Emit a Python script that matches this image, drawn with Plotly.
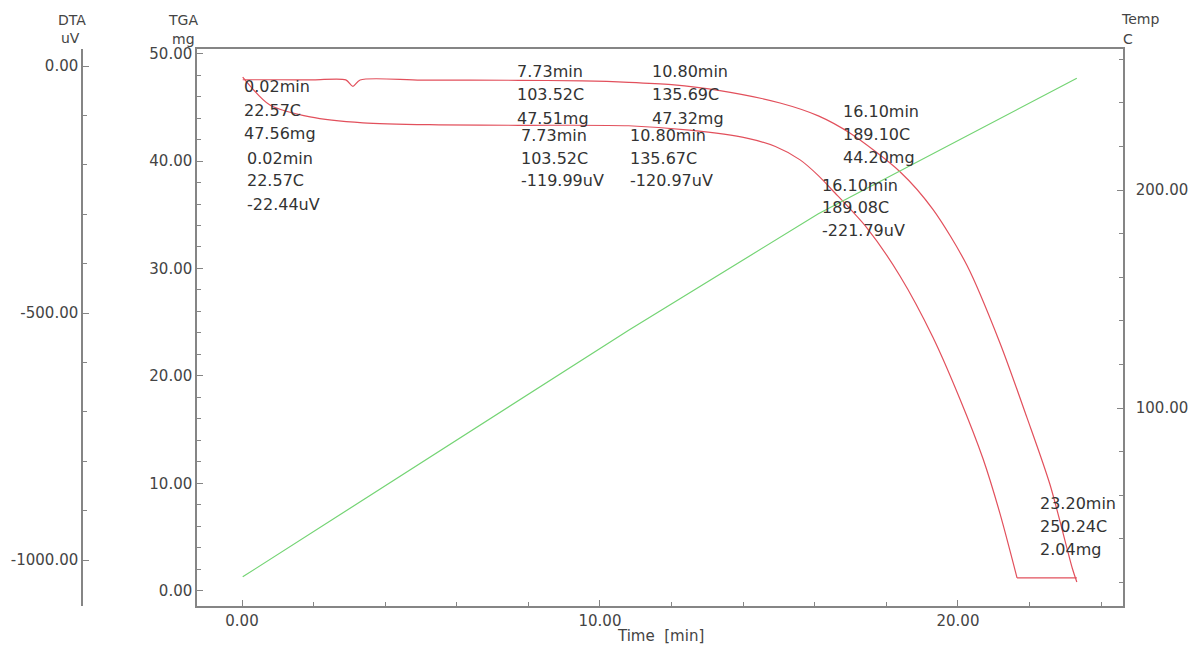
import plotly.graph_objects as go

# ---- TGA (mass) trace, mg vs time ----
tga_time = [0.02, 1.0, 2.0, 2.90, 3.10, 3.30, 5.0, 7.73, 9.5, 10.80, 12.0, 13.35,
            15.03, 16.10, 16.98, 18.38, 19.30, 20.25, 21.17, 21.93, 22.57, 23.20, 23.32]
tga_mass = [47.56, 47.56, 47.55, 47.55, 46.95, 47.54, 47.53, 47.51, 47.45, 47.32, 47.10, 46.55,
            45.40, 44.20, 42.60, 39.00, 35.50, 30.30, 23.10, 16.10, 9.90, 2.04, 0.83]

# ---- DTA trace, uV vs time (last point: flat run at the bottom) ----
dta_time = [0.02, 0.78, 1.9, 3.38, 5.5, 7.73, 10.80, 12.5, 14.1, 14.9, 15.59, 16.10, 16.5,
            17.46, 18.38, 19.30, 20.06, 20.70, 21.17, 21.65, 23.32]
dta_uv = [-22.44, -79, -103, -115, -119, -119.99, -120.97, -130, -146, -163, -190, -221.79,
          -252, -328, -425, -549, -675, -795, -905, -1036, -1036]

# ---- sample temperature, C vs time ----
temp_time = [0.02, 7.73, 10.80, 16.10, 23.20, 23.32]
temp_c = [22.57, 103.52, 135.69, 189.10, 250.24, 251.3]

# ---- marked points ----
tga_mark_time = [0.02, 7.73, 10.80, 16.10, 23.20]
tga_mark_temp = [22.57, 103.52, 135.69, 189.10, 250.24]
tga_mark_mass = [47.56, 47.51, 47.32, 44.20, 2.04]

dta_mark_time = [0.02, 7.73, 10.80, 16.10]
dta_mark_temp = [22.57, 103.52, 135.67, 189.08]
dta_mark_uv = [-22.44, -119.99, -120.97, -221.79]

# ---- ticks ----
x_tickvals = [0, 10, 20]
x_ticktext = ["0.00", "10.00", "20.00"]
tga_tickvals = [0, 10, 20, 30, 40, 50]
tga_ticktext = ["0.00", "10.00", "20.00", "30.00", "40.00", "50.00"]
dta_tickvals = [0, -500, -1000]
dta_ticktext = ["0.00", "-500.00", "-1000.00"]
temp_tickvals = [100, 200]
temp_ticktext = ["100.00", "200.00"]

RED = "#e2505c"
GREEN = "#74d474"
AXIS = "#858585"
TXT = "#333333"
FONT = "DejaVu Sans"

W, H = 1197, 653
ML, MR, MT, MB = 82, 74, 49, 47
PW, PH = W - ML - MR, H - MT - MB


def px(xp):
    return (xp - ML) / PW


def py(yp):
    return (H - MB - yp) / PH


line_red = dict(color=RED, width=1.2, shape="spline", smoothing=0.8)

fig = go.Figure()
fig.add_trace(go.Scatter(x=tga_time, y=tga_mass, mode="lines", yaxis="y",
                         line=line_red, hoverinfo="skip"))
# curved part of the DTA signal, then its flat run along the bottom
fig.add_trace(go.Scatter(x=dta_time[:-1], y=dta_uv[:-1], mode="lines", yaxis="y2",
                         line=line_red, hoverinfo="skip"))
fig.add_trace(go.Scatter(x=dta_time[-2:], y=dta_uv[-2:], mode="lines", yaxis="y2",
                         line=dict(color=RED, width=1.2), hoverinfo="skip"))
fig.add_trace(go.Scatter(x=temp_time, y=temp_c, mode="lines", yaxis="y3",
                         line=dict(color=GREEN, width=1.2), hoverinfo="skip"))

tick_font = dict(family=FONT, size=15, color="#444444")


def axis_style(**kw):
    base = dict(showline=True, linecolor=AXIS, linewidth=1.5, ticks="inside", ticklen=6,
                tickcolor=AXIS, tickwidth=1.2, showgrid=False, zeroline=False,
                tickfont=tick_font, tickmode="array", automargin=False)
    base.update(kw)
    return base


fig.update_layout(
    width=W, height=H,
    margin=dict(l=ML, r=MR, t=MT, b=MB, pad=0),
    paper_bgcolor="white", plot_bgcolor="white",
    showlegend=False,
    xaxis=axis_style(domain=[px(197), 1], range=[-1.257, 24.61], mirror=True,
                     tickvals=x_tickvals, ticktext=x_ticktext,
                     minor=dict(tickmode="linear", tick0=0, dtick=2, ticks="inside",
                                ticklen=4, tickcolor=AXIS)),
    yaxis=axis_style(anchor="x", range=[-1.40, 50.42],
                     tickvals=tga_tickvals, ticktext=tga_ticktext,
                     minor=dict(tickmode="linear", tick0=0, dtick=2, ticks="inside",
                                ticklen=4, tickcolor=AXIS)),
    yaxis2=axis_style(overlaying="y", anchor="free", position=0, side="left",
                      range=[-1093, 34.4],
                      tickvals=dta_tickvals, ticktext=dta_ticktext,
                      minor=dict(tickmode="linear", tick0=0, dtick=100, ticks="inside",
                                 ticklen=4, tickcolor=AXIS)),
    yaxis3=axis_style(overlaying="y", anchor="x", side="right", range=[9.2, 264.7],
                      tickvals=temp_tickvals, ticktext=temp_ticktext, ticklabelstandoff=8,
                      minor=dict(tickmode="linear", tick0=0, dtick=20, ticks="inside",
                                 ticklen=4, tickcolor=AXIS)),
)

ann = []


def add_text(text, xp, yp, size=16, xanchor="left", color=TXT):
    ann.append(dict(text=text, x=px(xp), y=py(yp), xref="paper", yref="paper",
                    xanchor=xanchor, yanchor="middle", showarrow=False,
                    font=dict(family=FONT, size=size, color=color)))


# axis headers
for txt, xp, yp in [("DTA", 72, 20), ("uV", 70, 38), ("TGA", 183, 20), ("mg", 183, 39),
                    ("Temp", 1140, 19), ("C", 1128, 39)]:
    add_text(txt, xp, yp, size=14, xanchor="center", color="#444444")
add_text("Time  [min]", 660, 636, size=15, xanchor="center", color="#444444")

# point labels: (left x px, top line y px)
tga_label_pos = [(242, 87), (515, 72), (650, 72), (841, 111), (1038, 503)]
dta_label_pos = [(245, 158), (519, 135), (628, 135), (820, 185)]
STEP = 23

for (xp, yp), t, T, m in zip(tga_label_pos, tga_mark_time, tga_mark_temp, tga_mark_mass):
    for i, line in enumerate([f"{t:.2f}min", f"{T:.2f}C", f"{m:.2f}mg"]):
        add_text(line, xp, yp + i * STEP)

for (xp, yp), t, T, u in zip(dta_label_pos, dta_mark_time, dta_mark_temp, dta_mark_uv):
    for i, line in enumerate([f"{t:.2f}min", f"{T:.2f}C", f"{u:.2f}uV"]):
        add_text(line, xp, yp + i * STEP)

fig.update_layout(annotations=ann)
fig.write_html("out.html")
